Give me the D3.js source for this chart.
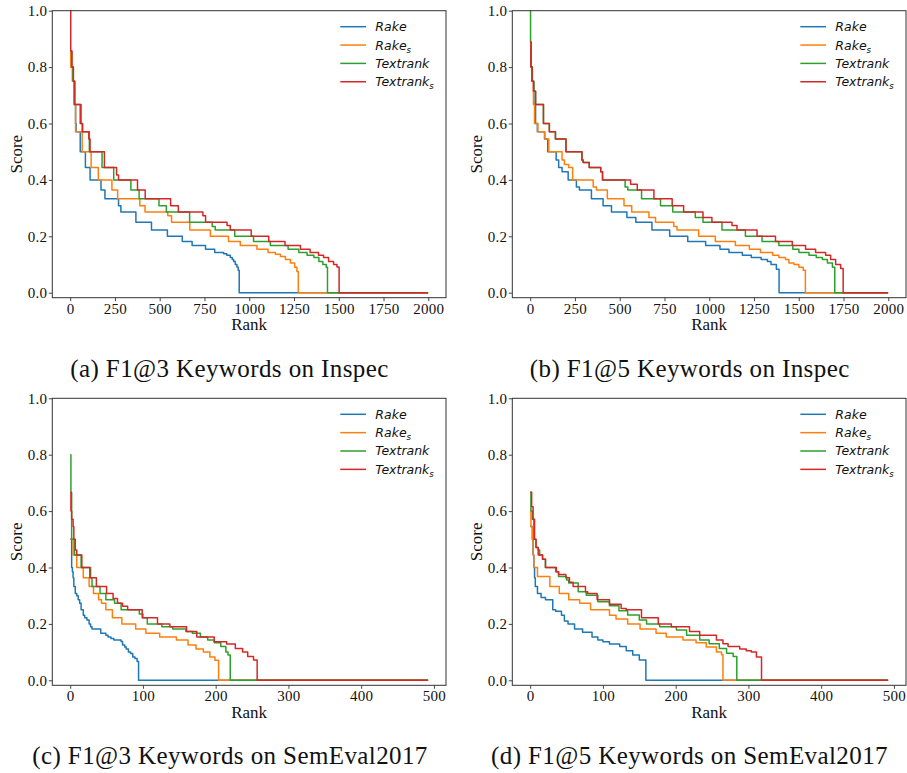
<!DOCTYPE html>
<html>
<head>
<meta charset="utf-8">
<script src="https://cdn.jsdelivr.net/npm/d3@7"></script>
<style>
body { margin: 0; background: #fff; }
</style>
</head>
<body>
<svg id="fig" width="907" height="773"></svg>
<script>
// series names, drawn in this order
var seriesNames = ["Rake", "Rake_s", "Textrank", "Textrank_s"]
var seriesColors = ["#1f77b4", "#ff7f0e", "#2ca02c", "#d62728"]

// number of documents (x runs 0 .. n-1)
var inspecRanks = 2000
var semevalRanks = 493
var inspecTicks = [0, 250, 500, 750, 1000, 1250, 1500, 1750, 2000]
var semevalTicks = [0, 100, 200, 300, 400, 500]
var scoreTicks = [0.0, 0.2, 0.4, 0.6, 0.8, 1.0]

var captions = ["(a) F1@3 Keywords on Inspec", "(b) F1@5 Keywords on Inspec",
	"(c) F1@3 Keywords on SemEval2017", "(d) F1@5 Keywords on SemEval2017"]

// [rank where the step starts, score]
// (a) Inspec F1@3
var rakeA = [[0,0.857],[5,0.8],[14,0.75],[22,0.667],[30,0.6],[33,0.571],[56,0.5],[85,0.444],[111,0.4],[172,0.364],[194,0.333],[270,0.308],[283,0.286],[367,0.25],[454,0.222],[543,0.2],[626,0.182],[681,0.167],[756,0.154],[807,0.143],[857,0.138],[875,0.133],[894,0.125],[905,0.118],[913,0.111],[922,0.1],[931,0.091],[938,0.08],[944,0]]
var rakeSA = [[0,0.857],[3,0.8],[12,0.75],[20,0.667],[30,0.571],[67,0.5],[117,0.444],[157,0.4],[233,0.364],[265,0.333],[389,0.308],[418,0.286],[545,0.273],[566,0.25],[668,0.222],[783,0.2],[884,0.182],[950,0.167],[1043,0.154],[1105,0.143],[1146,0.136],[1174,0.128],[1202,0.118],[1230,0.105],[1254,0.09],[1266,0.075],[1274,0]]
var textrankA = [[0,0.857],[8,0.8],[16,0.75],[24,0.667],[61,0.6],[70,0.571],[107,0.5],[178,0.444],[243,0.4],[339,0.364],[385,0.333],[496,0.308],[537,0.286],[667,0.25],[793,0.235],[810,0.222],[919,0.2],[1024,0.182],[1118,0.167],[1217,0.154],[1277,0.143],[1323,0.133],[1361,0.125],[1389,0.111],[1411,0.1],[1430,0.09],[1437,0]]
var textrankSA = [[0,1.0],[3,0.857],[10,0.8],[18,0.75],[26,0.667],[56,0.6],[67,0.571],[104,0.545],[111,0.5],[191,0.444],[259,0.417],[270,0.4],[376,0.364],[419,0.333],[561,0.308],[604,0.286],[741,0.273],[756,0.25],[876,0.238],[894,0.222],[1011,0.2],[1109,0.182],[1200,0.167],[1286,0.154],[1340,0.143],[1387,0.133],[1415,0.125],[1443,0.111],[1471,0.1],[1490,0.091],[1502,0]]

// (b) Inspec F1@5
var rakeB = [[0,0.857],[5,0.8],[12,0.75],[20,0.667],[30,0.6],[40,0.571],[80,0.545],[98,0.5],[145,0.471],[159,0.444],[178,0.429],[212,0.4],[258,0.375],[275,0.364],[342,0.333],[407,0.308],[454,0.286],[540,0.267],[590,0.25],[680,0.222],[779,0.2],[880,0.182],[980,0.167],[1060,0.154],[1110,0.143],[1185,0.133],[1235,0.125],[1290,0.118],[1325,0.111],[1345,0.1],[1375,0.083],[1390,0]]
var rakeSB = [[0,0.889],[4,0.8],[10,0.75],[18,0.667],[24,0.6],[43,0.571],[82,0.545],[104,0.5],[178,0.471],[191,0.455],[215,0.444],[237,0.4],[352,0.375],[370,0.364],[431,0.333],[524,0.308],[567,0.286],[663,0.267],[700,0.25],[802,0.235],[820,0.222],[941,0.2],[1034,0.182],[1146,0.167],[1224,0.154],[1286,0.143],[1355,0.133],[1389,0.125],[1426,0.118],[1445,0.105],[1473,0.1],[1501,0.09],[1525,0.08],[1537,0]]
var textrankB = [[0,1.0],[2,0.889],[6,0.8],[12,0.75],[20,0.714],[30,0.667],[74,0.6],[107,0.571],[141,0.545],[200,0.5],[289,0.471],[296,0.462],[330,0.444],[394,0.429],[404,0.4],[530,0.375],[545,0.364],[622,0.333],[728,0.308],[796,0.286],[922,0.267],[965,0.25],[1071,0.222],[1202,0.2],[1295,0.182],[1389,0.167],[1467,0.154],[1501,0.143],[1557,0.133],[1598,0.125],[1632,0.118],[1660,0.105],[1688,0.09],[1701,0]]
var textrankSB = [[0,0.889],[4,0.8],[10,0.75],[18,0.714],[30,0.667],[74,0.6],[107,0.571],[141,0.545],[200,0.5],[289,0.471],[296,0.462],[330,0.444],[394,0.429],[404,0.4],[561,0.385],[598,0.364],[691,0.333],[793,0.308],[857,0.286],[965,0.267],[1015,0.25],[1127,0.238],[1155,0.222],[1267,0.2],[1370,0.182],[1464,0.167],[1538,0.154],[1594,0.143],[1650,0.133],[1678,0.118],[1706,0.1],[1734,0.086],[1748,0]]

// (c) SemEval2017 F1@3
var rakeC = [[0,0.5],[2,0.4],[3,0.385],[4,0.364],[5,0.333],[7,0.308],[9,0.3],[11,0.286],[13,0.273],[15,0.25],[18,0.231],[20,0.222],[23,0.214],[26,0.2],[28,0.19],[30,0.182],[42,0.167],[49,0.16],[52,0.154],[56,0.148],[60,0.143],[70,0.138],[72,0.125],[75,0.118],[77,0.111],[80,0.1],[83,0.095],[86,0.083],[89,0.077],[92,0.067],[94,0]]
var rakeSC = [[0,0.5],[4,0.444],[9,0.4],[18,0.364],[26,0.333],[32,0.308],[39,0.286],[43,0.273],[49,0.25],[58,0.222],[71,0.2],[90,0.182],[104,0.167],[123,0.154],[146,0.143],[162,0.125],[173,0.111],[183,0.1],[192,0.083],[199,0.071],[204,0]]
var textrankC = [[0,0.8],[1,0.667],[2,0.5],[6,0.444],[15,0.4],[28,0.364],[30,0.333],[41,0.308],[49,0.286],[61,0.273],[70,0.25],[95,0.235],[100,0.222],[106,0.2],[126,0.19],[141,0.182],[159,0.173],[168,0.167],[179,0.154],[189,0.143],[198,0.133],[207,0.12],[214,0.1],[217,0.09],[220,0]]
var textrankSC = [[0,0.667],[1,0.6],[2,0.571],[4,0.545],[5,0.5],[7,0.462],[9,0.444],[16,0.4],[27,0.364],[36,0.333],[50,0.308],[59,0.29],[65,0.273],[72,0.263],[79,0.25],[99,0.222],[120,0.2],[137,0.19],[160,0.173],[174,0.154],[198,0.137],[215,0.129],[227,0.113],[237,0.1],[244,0.084],[252,0.072],[257,0]]

// (d) SemEval2017 F1@5
var rakeD = [[0,0.545],[3,0.5],[4,0.444],[5,0.4],[6,0.364],[7,0.333],[10,0.308],[15,0.294],[21,0.286],[31,0.25],[35,0.245],[43,0.231],[47,0.21],[52,0.2],[61,0.182],[72,0.17],[85,0.154],[93,0.143],[100,0.137],[109,0.129],[123,0.12],[132,0.105],[141,0.09],[150,0.072],[159,0]]
var rakeSD = [[0,0.6],[1,0.545],[3,0.5],[4,0.444],[5,0.4],[10,0.368],[27,0.333],[40,0.308],[53,0.286],[68,0.273],[83,0.25],[109,0.231],[118,0.217],[134,0.2],[151,0.182],[173,0.167],[187,0.154],[210,0.143],[228,0.133],[242,0.118],[256,0.1],[263,0.091],[265,0]]
var textrankD = [[0,0.667],[1,0.6],[3,0.571],[5,0.5],[8,0.471],[11,0.462],[13,0.444],[17,0.429],[21,0.4],[35,0.385],[39,0.368],[50,0.356],[53,0.345],[66,0.314],[77,0.302],[93,0.279],[109,0.264],[122,0.247],[134,0.232],[150,0.214],[160,0.2],[178,0.19],[201,0.178],[215,0.16],[233,0.143],[246,0.13],[260,0.113],[270,0.096],[279,0.084],[284,0]]
var textrankSD = [[0,0.667],[2,0.615],[4,0.571],[6,0.5],[8,0.471],[11,0.444],[17,0.429],[21,0.4],[36,0.385],[39,0.375],[49,0.364],[54,0.348],[59,0.333],[76,0.314],[79,0.308],[92,0.286],[109,0.27],[125,0.255],[132,0.25],[153,0.222],[176,0.2],[194,0.19],[219,0.173],[233,0.16],[256,0.143],[265,0.13],[272,0.12],[288,0.111],[297,0.105],[304,0.1],[311,0.083],[318,0]]

var axW = 393.7
var axH = 287
var serif = "'Liberation Serif', 'Times New Roman', serif"
var sans = "'DejaVu Sans', sans-serif"

var panels = [
	{series: [rakeA, rakeSA, textrankA, textrankSA], n: inspecRanks, ticks: inspecTicks, caption: captions[0], left: 52.3, top: 10.7, capX: 229.5},
	{series: [rakeB, rakeSB, textrankB, textrankSB], n: inspecRanks, ticks: inspecTicks, caption: captions[1], left: 512.3, top: 10.7, capX: 689.7},
	{series: [rakeC, rakeSC, textrankC, textrankSC], n: semevalRanks, ticks: semevalTicks, caption: captions[2], left: 52.3, top: 398.3, capX: 230},
	{series: [rakeD, rakeSD, textrankD, textrankSD], n: semevalRanks, ticks: semevalTicks, caption: captions[3], left: 512.3, top: 398.3, capX: 689.5}
]

var fig = d3.select("#fig")

panels.forEach(function(p) {
	var last = p.n - 1
	var x = d3.scaleLinear()
		.domain([-0.05 * last, last * 1.05])
		.range([p.left, p.left + axW])
	var y = d3.scaleLinear()
		.domain([-0.0177, 1.0])
		.range([p.top + axH, p.top])

	var g = fig.append("g")

	var line = d3.line()
		.curve(d3.curveStepAfter)
		.x(function(d) {return x(d[0]);})
		.y(function(d) {return y(d[1]);})

	var clipId = "clip" + p.left + "_" + Math.round(p.top)
	g.append("clipPath").attr("id", clipId)
		.append("rect")
		.attr("x", p.left).attr("y", p.top - 1)
		.attr("width", axW).attr("height", axH + 1)

	p.series.forEach(function(s, i) {
		var pts = s.concat([[last, 0]])
		g.append("path")
			.datum(pts)
			.attr("d", line)
			.attr("fill", "none")
			.attr("stroke", seriesColors[i])
			.attr("stroke-width", 1.5)
			.attr("stroke-linejoin", "round")
			.attr("clip-path", "url(#" + clipId + ")")
	})

	// axes
	g.append("g")
		.attr("transform", "translate(0," + (p.top + axH) + ")")
		.call(d3.axisBottom(x).tickValues(p.ticks).tickSize(3.5).tickPadding(2).tickFormat(d3.format("d")))
	g.append("g")
		.attr("transform", "translate(" + p.left + ",0)")
		.call(d3.axisLeft(y).tickValues(scoreTicks).tickSize(3.5).tickPadding(1.5).tickFormat(d3.format(".1f")))

	g.selectAll(".domain").remove()
	g.selectAll(".tick line").attr("stroke", "#333").attr("stroke-width", 0.9)
	g.selectAll(".tick text")
		.attr("font-family", serif)
		.attr("font-size", "15px")
		.attr("letter-spacing", "0.3px")
		.attr("fill", "#111")

	// frame
	g.append("rect")
		.attr("x", p.left).attr("y", p.top)
		.attr("width", axW).attr("height", axH)
		.attr("fill", "none")
		.attr("stroke", "#333")
		.attr("stroke-width", 1)

	g.append("text")
		.text("Rank")
		.attr("x", p.left + axW / 2)
		.attr("y", p.top + axH + 32.5)
		.attr("text-anchor", "middle")
		.attr("font-family", serif)
		.attr("font-size", "17px")
		.attr("fill", "#111")

	g.append("text")
		.text("Score")
		.attr("transform", "translate(" + (p.left - 30.8) + "," + (p.top + axH / 2) + ") rotate(-90)")
		.attr("text-anchor", "middle")
		.attr("font-family", serif)
		.attr("font-size", "17px")
		.attr("fill", "#111")

	// legend
	var leg = g.append("g")
		.attr("transform", "translate(" + (p.left + 288) + "," + (p.top + 16) + ")")
	seriesNames.forEach(function(name, i) {
		var ly = i * 18.35
		leg.append("line")
			.attr("x1", 0).attr("x2", 25.7)
			.attr("y1", ly).attr("y2", ly)
			.attr("stroke", seriesColors[i])
			.attr("stroke-width", 1.5)
		var parts = name.split("_")
		var t = leg.append("text")
			.attr("x", 35).attr("y", ly)
			.attr("dy", "0.36em")
			.attr("font-family", sans)
			.attr("font-style", "italic")
			.attr("font-size", "12.5px")
			.attr("fill", "#111")
		t.append("tspan").text(parts[0])
		if (parts.length > 1) {
			t.append("tspan")
				.text(parts[1])
				.attr("font-size", "8.6px")
				.attr("dy", "3")
		}
	})

	g.append("text")
		.text(p.caption)
		.attr("x", p.capX)
		.attr("y", p.top + axH + 78.8)
		.attr("text-anchor", "middle")
		.attr("font-family", serif)
		.attr("font-size", "25px")
		.attr("letter-spacing", "0.4px")
		.attr("fill", "#111")
})
</script>
</body>
</html>
